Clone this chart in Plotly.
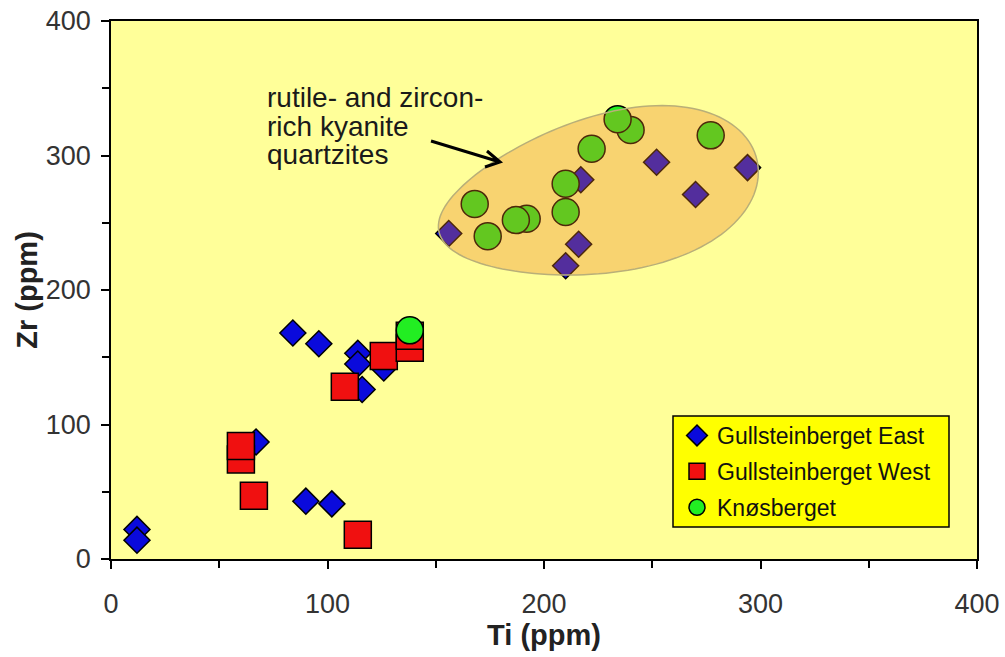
import numpy as np
import plotly.graph_objects as go

# ---------------- data ----------------
east_ti = [12, 12, 84, 96, 114, 114, 126, 116, 67, 90, 102,
           156, 217, 252, 294, 270, 216, 210]
east_zr = [22, 14, 168, 160, 153, 145, 142, 126, 87, 43, 41,
           242, 282, 295, 291, 271, 234, 218]

west_ti = [60, 60, 66, 114, 108, 126, 138, 138]
west_zr = [74, 84, 47, 18, 128, 151, 157, 166]

knos_ti = [138, 240, 234, 277, 222, 210, 210, 168, 174, 192, 187]
knos_zr = [170, 319, 327, 315, 305, 279, 258, 264, 240, 253, 252]

x_ticks = [0, 100, 200, 300, 400]
y_ticks = [0, 100, 200, 300, 400]

label_lines = ["rutile- and zircon-", "rich kyanite", "quartzites"]

# ---------------- layout constants ----------------
OFF = 0                      # page body margin (removed by post_script)
W, H = 1005, 657
ML, MT = 111, 21
PW, PH = 866, 538
MR, MB = W - ML - PW, H - MT - PH
XR, YR = (0, 400), (0, 400)
sx = PW / (XR[1] - XR[0])
sy = PH / (YR[1] - YR[0])


def to_data(px, py):
    """window pixel -> data coords"""
    px = np.asarray(px, dtype=float) - OFF
    py = np.asarray(py, dtype=float) - OFF
    return (px - ML) / sx + XR[0], (MT + PH - py) / sy + YR[0]


def to_paper(px, py):
    px = px - OFF
    py = py - OFF
    return (px - ML) / PW, (MT + PH - py) / PH


FONT = "Liberation Sans, Arial, sans-serif"

fig = go.Figure()
fig.add_trace(go.Scatter(
    x=east_ti, y=east_zr, mode="markers", name="Gullsteinberget East",
    legendgroup="e",
    marker=dict(symbol="diamond", size=20, color="#0A0ADC",
                line=dict(color="black", width=1.5))))
fig.add_trace(go.Scatter(
    x=west_ti, y=west_zr, mode="markers", name="Gullsteinberget West",
    legendgroup="w",
    marker=dict(symbol="square", size=27, color="#F01010",
                line=dict(color="black", width=1.5))))
fig.add_trace(go.Scatter(
    x=knos_ti, y=knos_zr, mode="markers", name="Knøsberget",
    legendgroup="k",
    marker=dict(symbol="circle", size=27, color="#22EE22",
                line=dict(color="black", width=1.5))))

# ---------------- egg-shaped field (screen space -> data) ----------------
t = np.linspace(0, 2 * np.pi, 140)
a_px, b_px, k = 163, 78, 0.2
ang = np.deg2rad(12.7)
u = a_px * np.cos(t)
v = b_px * np.sin(t) * (1 + k * np.cos(t))
cx_px, cy_px = 598, 196
X = cx_px + u * np.cos(ang) + v * np.sin(ang)
Y = cy_px - u * np.sin(ang) + v * np.cos(ang)
ex, ey = to_data(X, Y)
path = "M " + " L ".join(f"{a:.2f},{b:.2f}" for a, b in zip(ex, ey)) + " Z"
fig.add_shape(type="path", path=path, xref="x", yref="y", layer="above",
              fillcolor="rgba(235,120,30,0.33)",
              line=dict(color="rgb(185,175,120)", width=1.5))

# ---------------- arrow (open head) ----------------
tail = to_data(431, 141)
tip = to_data(500, 162)
arm1 = to_data(487, 151)
arm2 = to_data(485, 167)
apath = (f"M {tail[0]:.2f},{tail[1]:.2f} L {tip[0]:.2f},{tip[1]:.2f} "
         f"M {arm1[0]:.2f},{arm1[1]:.2f} L {tip[0]:.2f},{tip[1]:.2f} "
         f"L {arm2[0]:.2f},{arm2[1]:.2f}")
fig.add_shape(type="path", path=apath, xref="x", yref="y", layer="above",
              line=dict(color="black", width=3))

for line_text, py in zip(label_lines, [97, 126, 154]):
    tx, ty = to_data(265, py)
    fig.add_annotation(x=float(tx), y=float(ty), xref="x", yref="y",
                       text=line_text, showarrow=False,
                       xanchor="left", yanchor="middle", align="left",
                       font=dict(family=FONT, size=28, color="#1a1a1a"))

# ---------------- legend box ----------------
bx0, by0 = to_paper(673, 527)
bx1, by1 = to_paper(949, 416)
fig.add_shape(type="rect", xref="paper", yref="paper", layer="above",
              x0=bx0, x1=bx1, y0=by0, y1=by1,
              fillcolor="#FFFF00", line=dict(color="black", width=1.5))

axis_common = dict(
    showgrid=False, zeroline=False, showline=True, linecolor="black",
    linewidth=1.5, mirror=True, ticks="outside", ticklen=8, tickwidth=1.5,
    tickcolor="black", tickfont=dict(family=FONT, size=27, color="#333333"),
    ticklabeloverflow="allow",
)

fig.update_xaxes(range=list(XR), tickvals=x_ticks,
                 minor=dict(dtick=50, ticks="outside", ticklen=7, tickwidth=1.5,
                            tickcolor="black"),
                 ticklabelstandoff=12,
                 title=dict(text="Ti (ppm)", standoff=6,
                            font=dict(family=FONT, size=29, color="#222222",
                                      weight="bold")),
                 **axis_common)
fig.update_yaxes(range=list(YR), tickvals=y_ticks,
                 minor=dict(dtick=50, ticks="outside", ticklen=7, tickwidth=1.5,
                            tickcolor="black"),
                 ticklabelstandoff=5,
                 title=dict(text="Zr (ppm)", standoff=0,
                            font=dict(family=FONT, size=29, color="#222222",
                                      weight="bold")),
                 **axis_common)

lx, ly = to_paper(677, 414)
fig.update_layout(
    width=W, height=H,
    margin=dict(l=ML, r=MR, t=MT, b=MB, autoexpand=False),
    paper_bgcolor="white", plot_bgcolor="#FFFF99",
    showlegend=True,
    legend=dict(x=lx, y=ly, xanchor="left", yanchor="top",
                bgcolor="rgba(0,0,0,0)", borderwidth=0,
                font=dict(family=FONT, size=23, color="#111111"),
                tracegroupgap=3, itemsizing="trace"),
)

fig.write_html("out.html",
               config={"displayModeBar": False},
               post_script="document.body.style.margin='0px';"
                           "document.body.style.overflow='hidden';")
